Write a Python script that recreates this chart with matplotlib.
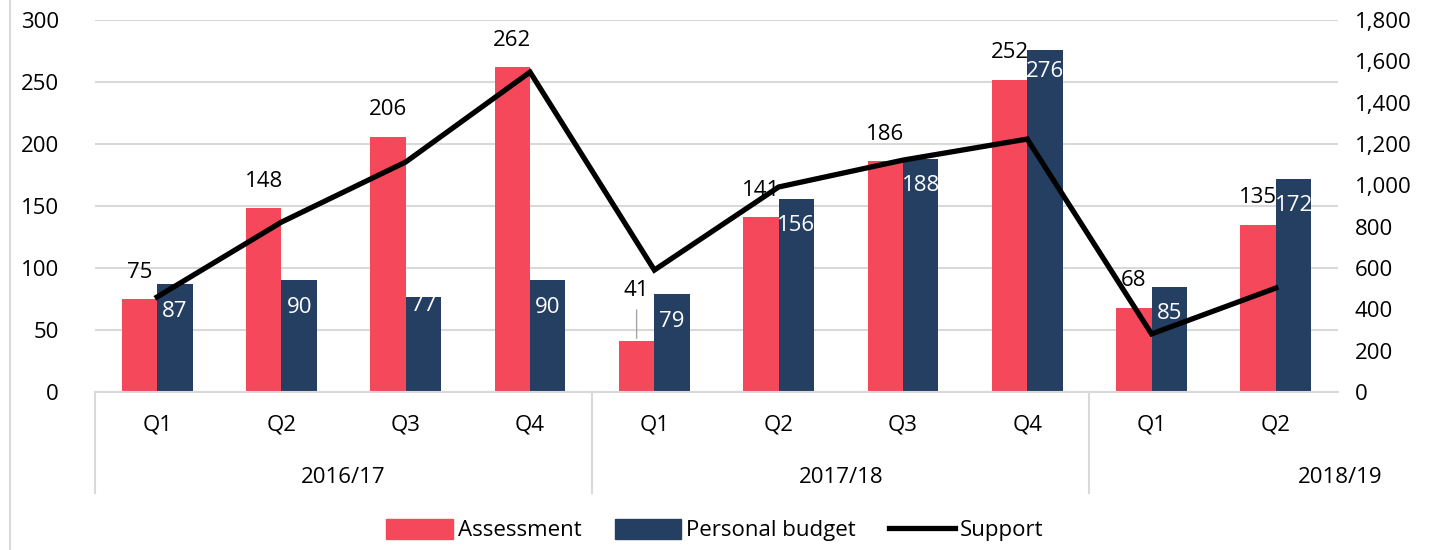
import matplotlib.pyplot as plt
from matplotlib.lines import Line2D
from matplotlib.ticker import FuncFormatter
import numpy as np

plt.rcParams['font.family'] = ['Open Sans', 'DejaVu Sans']

quarters = ['Q1', 'Q2', 'Q3', 'Q4', 'Q1', 'Q2', 'Q3', 'Q4', 'Q1', 'Q2']
years = ['2016/17', '2017/18', '2018/19']
year_sizes = [4, 4, 2]
assessment = [75, 148, 206, 262, 41, 141, 186, 252, 68, 135]
personal_budget = [87, 90, 77, 90, 79, 156, 188, 276, 85, 172]
support = [460, 822, 1113, 1548, 590, 992, 1122, 1224, 281, 503]

red = '#F5495B'
navy = '#253F62'
grid = '#D9D9D9'
fs = 16

fig = plt.figure(figsize=(14.3, 5.5), dpi=100)
ax = fig.add_axes([95/1430, 1-392/550, 1243/1430, 372/550])
ax2 = ax.twinx()

x = np.arange(len(quarters))
w = 0.285
ax.bar(x - w/2, assessment, w, color=red, zorder=2)
ax.bar(x + w/2, personal_budget, w, color=navy, zorder=2)
ax2.plot(x, support, color='black', lw=3.8, solid_joinstyle='miter', zorder=3)

ax.set_xlim(-0.5, len(quarters) - 0.5)
ax.set_ylim(0, 300)
ax.set_yticks(range(0, 301, 50))
ax2.set_ylim(0, 1800)
ax2.set_yticks(range(0, 1801, 200))
ax2.yaxis.set_major_formatter(FuncFormatter(lambda v, p: f'{int(v):,}'))

for a in (ax, ax2):
    for s in a.spines.values():
        s.set_visible(False)
    a.tick_params(length=0, labelsize=fs)
ax.tick_params(axis='y', pad=26)
ax2.tick_params(axis='y', pad=12)
ax.set_xticks([])
ax.yaxis.grid(True, color=grid, lw=1.5, zorder=0)
ax.set_axisbelow(True)
ax.spines['bottom'].set_visible(True)
ax.spines['bottom'].set_color(grid)
ax.spines['bottom'].set_linewidth(1.5)
ax.set_zorder(ax2.get_zorder() - 1)
ax.patch.set_visible(False)

# bar labels
for i, v in enumerate(assessment):
    off = 51 if v == 41 else 27
    ax.annotate(str(v), (x[i] - w/2, v), xytext=(0, off), textcoords='offset pixels',
                ha='center', va='center', fontsize=fs, zorder=5)
    if v == 41:
        ax.annotate('', (x[i] - w/2, v), xytext=(0, 34), textcoords='offset pixels',
                    arrowprops=dict(arrowstyle='-', color='#A6A6A6', lw=1))
for i, v in enumerate(personal_budget):
    off = -9 if v == 77 else (-22 if v == 276 else -27)
    ax.annotate(str(v), (x[i] + w/2, v), xytext=(0, off), textcoords='offset pixels',
                ha='center', va='center', fontsize=fs, color='white', zorder=5)

# multi-level category axis
tr = ax.get_xaxis_transform()
for i, q in enumerate(quarters):
    ax.text(x[i], -0.0887, q, transform=tr, ha='center', va='center', fontsize=fs)
start = 0
for yr, n in zip(years, year_sizes):
    ax.plot([start - 0.5, start - 0.5], [0, -0.2715], transform=tr, color=grid,
            lw=1.5, clip_on=False)
    cx = start + (n - 1) / 2 if yr != '2018/19' else start + n - 0.48
    ax.text(cx, -0.231, yr, transform=tr, ha='center', va='center', fontsize=fs)
    start += n

# chart area left border
fig.add_artist(Line2D([10/1430, 10/1430], [0, 1], color=grid, lw=1.5))

handles = [plt.Rectangle((0, 0), 1, 1, color=red),
           plt.Rectangle((0, 0), 1, 1, color=navy),
           Line2D([], [], color='black', lw=3.8)]
fig.legend(handles, ['Assessment', 'Personal budget', 'Support'], loc='center',
           bbox_to_anchor=(0.5, 1 - 530/550), ncol=3, frameon=False, fontsize=fs,
           handlelength=3.0, handleheight=1.0, handletextpad=0.2, columnspacing=1.5)

fig.savefig('out.png', dpi=100)
